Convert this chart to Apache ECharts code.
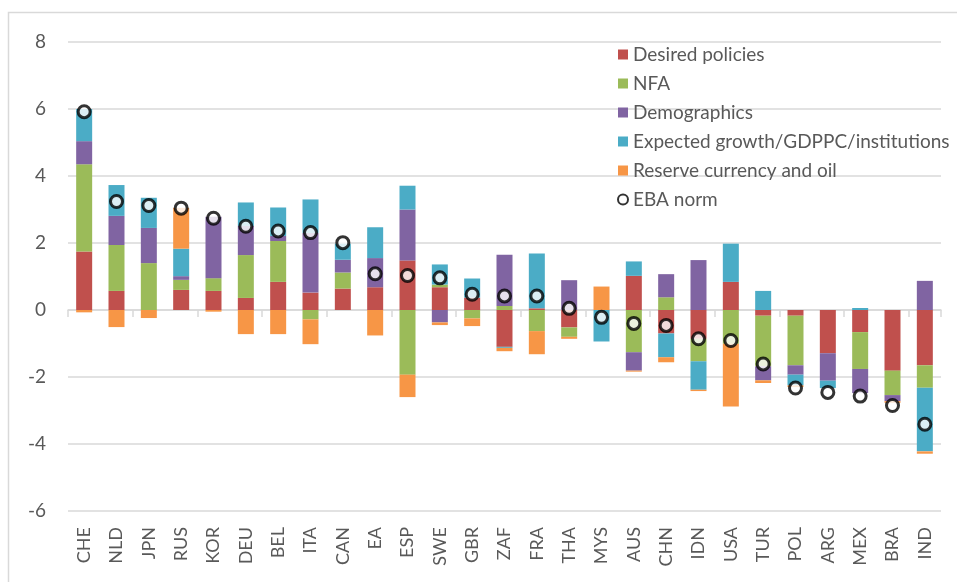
<!DOCTYPE html>
<html>
<head>
<meta charset="utf-8">
<script src="https://cdn.jsdelivr.net/npm/echarts@6/dist/echarts.min.js"></script>
<style>
  html, body { margin: 0; padding: 0; background: #fff; }
  #chart { width: 957px; height: 582px; }
</style>
</head>
<body>
<div id="chart"></div>
<script>
// categories on the x axis
var countries = ['CHE', 'NLD', 'JPN', 'RUS', 'KOR', 'DEU', 'BEL', 'ITA', 'CAN', 'EA', 'ESP', 'SWE', 'GBR', 'ZAF',
  'FRA', 'THA', 'MYS', 'AUS', 'CHN', 'IDN', 'USA', 'TUR', 'POL', 'ARG', 'MEX', 'BRA', 'IND']

// contributions (each segment, stacked by sign)
var desiredPolicies = [1.75, 0.57, 0, 0.60, 0.57, 0.36, 0.84, 0.52, 0.64, 0.68, 1.48, 0.68, 0.37, -1.10,
  0.05, -0.52, 0, 1.02, -0.70, -0.86, 0.84, -0.17, -0.17, -1.29, -0.66, -1.81, -1.65]
var nfa = [2.60, 1.37, 1.40, 0.30, 0.38, 1.28, 1.22, -0.28, 0.48, 0, -1.93, 0.08, -0.25, 0.12,
  -0.63, -0.28, 0, -1.26, 0.38, -0.67, -1.01, -1.51, -1.48, 0, -1.10, -0.73, -0.67]
var demographics = [0.69, 0.87, 1.05, 0.11, 1.83, 0.87, 0.15, 1.78, 0.38, 0.87, 1.52, -0.37, 0, 1.53,
  0, 0.89, 0, -0.55, 0.69, 1.49, 0, -0.42, -0.28, -0.82, -0.72, -0.18, 0.87]
var growth = [0.96, 0.92, 0.90, 0.82, 0, 0.70, 0.85, 1.00, 0.48, 0.92, 0.71, 0.60, 0.57, -0.03,
  1.64, 0, -0.94, 0.43, -0.71, -0.85, 1.14, 0.57, -0.32, -0.22, 0.06, 0, -1.90]
var reserveOil = [-0.07, -0.51, -0.24, 1.22, -0.05, -0.72, -0.72, -0.74, 0, -0.76, -0.67, -0.08, -0.23, -0.10,
  -0.69, -0.06, 0.70, -0.03, -0.15, -0.04, -1.87, -0.08, -0.05, 0, 0, -0.05, -0.07]
var ebaNorm = [5.92, 3.24, 3.12, 3.04, 2.74, 2.50, 2.36, 2.31, 2.01, 1.08, 1.03, 0.96, 0.47, 0.42,
  0.42, 0.05, -0.22, -0.40, -0.46, -0.86, -0.91, -1.61, -2.33, -2.46, -2.57, -2.85, -3.41]

var yTicks = [-6, -4, -2, 0, 2, 4, 6, 8]

var txt = '#595959'
var gridCol = '#d9d9d9'
var font = 'Lato'

function barSeries (name, data, color) {
  return {
    name: name,
    type: 'bar',
    stack: 'total',
    xAxisIndex: 0,
    barWidth: 16,
    itemStyle: { color: color },
    emphasis: { disabled: true },
    data: data
  }
}

var chart = echarts.init(document.getElementById('chart'))
chart.setOption({
  animation: false,
  textStyle: { fontFamily: font },
  grid: { left: 68, right: 16, top: 42, bottom: 71, containLabel: false, outerBoundsMode: 'none' },
  graphic: [
    {
      type: 'rect',
      shape: { x: 8.5, y: 12.5, width: 1000, height: 1000 },
      style: { fill: null, stroke: gridCol, lineWidth: 1.5 },
      silent: true
    }
  ],
  legend: {
    orient: 'vertical',
    left: 612,
    top: 40,
    itemWidth: 10,
    itemHeight: 10,
    itemGap: 10,
    textStyle: { color: txt, fontSize: 19, fontFamily: font },
    data: [
      { name: 'Desired policies', icon: 'rect' },
      { name: 'NFA', icon: 'rect' },
      { name: 'Demographics', icon: 'rect' },
      { name: 'Expected growth/GDPPC/institutions', icon: 'rect' },
      { name: 'Reserve currency and oil', icon: 'rect' },
      { name: 'EBA norm', icon: 'circle' }
    ]
  },
  xAxis: [
    {
      type: 'category',
      position: 'bottom',
      data: countries,
      axisLine: { show: false, onZero: false },
      axisTick: { show: false },
      axisLabel: { rotate: 90, margin: 16, color: txt, fontSize: 18, fontFamily: font }
    },
    {
      type: 'category',
      position: 'bottom',
      data: countries,
      axisLine: { show: true, onZero: true, lineStyle: { color: gridCol, width: 1.5 } },
      axisTick: { show: true, length: 7, lineStyle: { color: gridCol, width: 1.5 } },
      axisLabel: { show: false }
    }
  ],
  yAxis: {
    type: 'value',
    min: yTicks[0],
    max: yTicks[yTicks.length - 1],
    interval: 2,
    axisLine: { show: false },
    axisTick: { show: false },
    axisLabel: { margin: 22, color: txt, fontSize: 19, fontFamily: font },
    splitLine: { lineStyle: { color: gridCol, width: 1.5 } }
  },
  series: [
    barSeries('Desired policies', desiredPolicies, '#C0504D'),
    barSeries('NFA', nfa, '#9BBB59'),
    barSeries('Demographics', demographics, '#8064A2'),
    barSeries('Expected growth/GDPPC/institutions', growth, '#4BACC6'),
    barSeries('Reserve currency and oil', reserveOil, '#F79646'),
    {
      name: 'EBA norm',
      type: 'scatter',
      xAxisIndex: 0,
      symbol: 'circle',
      symbolSize: 12,
      z: 5,
      itemStyle: { color: '#fff', borderColor: '#000', borderWidth: 3 },
      emphasis: { disabled: true },
      data: ebaNorm
    }
  ]
})
</script>
</body>
</html>
